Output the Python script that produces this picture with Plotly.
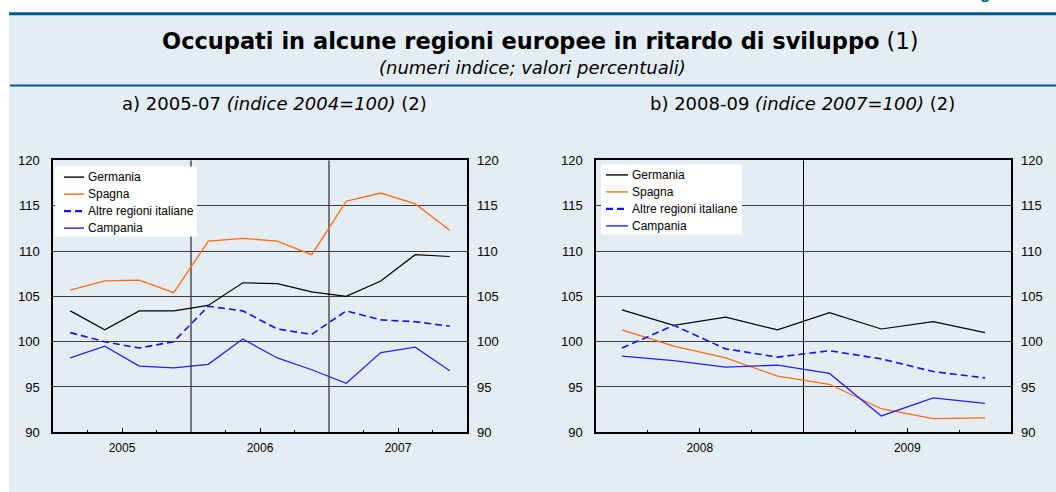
import plotly.graph_objects as go

W, H = 1056, 492

# ---------------- data ----------------
series_names = ["Germania", "Spagna", "Altre regioni italiane", "Campania"]
years_a = ["2005", "2006", "2007"]
years_b = ["2008", "2009"]
quarters_per_year = 4
y_ticks = [90, 95, 100, 105, 110, 115, 120]

germania_a = [103.4, 101.3, 103.4, 103.4, 104.0, 106.5, 106.4, 105.5, 105.0, 106.7, 109.6, 109.4]
spagna_a = [105.7, 106.7, 106.8, 105.4, 111.1, 111.4, 111.1, 109.6, 115.5, 116.4, 115.2, 112.3]
altre_a = [101.0, 100.0, 99.3, 100.0, 103.9, 103.4, 101.4, 100.8, 103.4, 102.4, 102.2, 101.7]
campania_a = [98.2, 99.5, 97.3, 97.1, 97.5, 100.3, 98.2, 96.9, 95.4, 98.8, 99.4, 96.8]

germania_b = [103.5, 101.8, 102.7, 101.3, 103.2, 101.4, 102.2, 101.0]
spagna_b = [101.3, 99.5, 98.2, 96.2, 95.3, 92.6, 91.5, 91.6]
altre_b = [99.3, 101.8, 99.2, 98.3, 99.0, 98.1, 96.7, 96.0]
campania_b = [98.4, 97.9, 97.2, 97.4, 96.5, 91.8, 93.8, 93.2]

# ---------------- styles ----------------
styles = {
    "Germania": dict(color="#000000", width=1.2, dash="solid"),
    "Spagna": dict(color="#FF6A10", width=1.3, dash="solid"),
    "Altre regioni italiane": dict(color="#1010FF", width=1.6, dash="7px,4px"),
    "Campania": dict(color="#2020FF", width=1.3, dash="solid"),
}
BG = "#E5EDF4"
DARK = "#005A85"
HEAD_FONT = "DejaVu Sans"
BODY_FONT = "Liberation Sans, Arial, sans-serif"

# The photographed page shows the figure slightly squeezed vertically;
# layout positions are given in target-picture pixels and mapped back here.
SHOT_OFF, SHOT_SCALE = 6.5, 0.97


def px_x(p):
    return p / W


def py(p):
    """target picture y-pixel -> paper fraction"""
    return 1 - ((p - SHOT_OFF) / SHOT_SCALE) / H


fig = go.Figure()

panels = [
    dict(vals=[germania_a, spagna_a, altre_a, campania_a], years=years_a,
         xa="x", ya="y", yr="y2",
         leg_box=(55, 197, 166, 236), leg_line=(64, 84), leg_text=86, leg_y0=176.7),
    dict(vals=[germania_b, spagna_b, altre_b, campania_b], years=years_b,
         xa="x2", ya="y3", yr="y4",
         leg_box=(601, 742, 164, 234), leg_line=(606, 628), leg_text=630, leg_y0=174.5),
]
LEG_STEP = 17

for p in panels:
    for i, (name, vals) in enumerate(zip(series_names, p["vals"])):
        st = styles[name]
        xs = [k + 0.5 for k in range(len(vals))]
        # half the series on the right-hand (mirrored) axis so both label columns are drawn
        yax = p["ya"] if i < 2 else p["yr"]
        fig.add_trace(go.Scatter(
            x=xs, y=vals, name=name, mode="lines",
            line=dict(color=st["color"], width=st["width"], dash=st["dash"]),
            xaxis=p["xa"], yaxis=yax, showlegend=False, hoverinfo="skip",
        ))

y_dom = [py(432), py(160)]
x_dom_a = [px_x(53), px_x(467)]
x_dom_b = [px_x(596), px_x(1011)]


def xaxis_cfg(years, dom, anchor):
    n = len(years) * quarters_per_year
    centers = [k * quarters_per_year + quarters_per_year / 2 for k in range(len(years))]
    minors = [k * quarters_per_year + q for k in range(len(years)) for q in (1, 3)]
    return dict(
        domain=dom, anchor=anchor, range=[0, n],
        tickmode="array", tickvals=centers, ticktext=years,
        ticks="inside", ticklen=5, tickcolor="#000", tickwidth=1,
        minor=dict(tickmode="array", tickvals=minors, ticks="inside", ticklen=3,
                   tickcolor="#000", tickwidth=1, showgrid=False),
        showgrid=False, zeroline=False, showline=True, mirror=True,
        linecolor="#000", linewidth=1.5, ticklabelstandoff=4,
        tickfont=dict(family=BODY_FONT, size=12, color="#000"),
        fixedrange=True,
    )


def yaxis_cfg(anchor):
    return dict(
        domain=y_dom, anchor=anchor, range=[90, 120],
        tickmode="array", tickvals=y_ticks,
        showgrid=True, gridcolor="#3a3a3a", gridwidth=1,
        zeroline=False, showline=True, mirror=True, linecolor="#000", linewidth=1.5,
        ticks="", ticklabelstandoff=9,
        tickfont=dict(family=BODY_FONT, size=13, color="#000"),
        fixedrange=True,
    )


def yaxis_right(over, anchor):
    return dict(
        overlaying=over, anchor=anchor, side="right", range=[90, 120],
        tickmode="array", tickvals=y_ticks, showgrid=False, zeroline=False,
        showline=False, ticks="", ticklabelstandoff=9,
        tickfont=dict(family=BODY_FONT, size=13, color="#000"),
        fixedrange=True,
    )


shapes = [
    dict(type="rect", xref="paper", yref="paper", x0=px_x(9), x1=1, y0=py(495), y1=py(14),
         fillcolor=BG, line=dict(width=0), layer="below"),
    dict(type="line", xref="paper", yref="paper", x0=px_x(9), x1=1, y0=py(13.3), y1=py(13.3),
         line=dict(color=DARK, width=3)),
    dict(type="line", xref="paper", yref="paper", x0=px_x(10), x1=1, y0=py(85), y1=py(85),
         line=dict(color=DARK, width=2)),
]

annotations = []

for p in panels:
    # year separators
    for k in range(1, len(p["years"])):
        shapes.append(dict(type="line", xref=p["xa"], yref=p["ya"] + " domain",
                           x0=k * quarters_per_year, x1=k * quarters_per_year, y0=0, y1=1,
                           line=dict(color="#000", width=1), layer="below"))
    # legend box
    bx0, bx1, by0, by1 = p["leg_box"]
    shapes.append(dict(type="rect", xref="paper", yref="paper",
                       x0=px_x(bx0), x1=px_x(bx1), y0=py(by1), y1=py(by0),
                       fillcolor="#FFFFFF", line=dict(width=0)))
    lx0, lx1 = p["leg_line"]
    for i, name in enumerate(series_names):
        st = styles[name]
        yy = p["leg_y0"] + i * LEG_STEP
        lw = max(st["width"], 1.4) + (0.6 if st["dash"] != "solid" else 0)
        shapes.append(dict(type="line", xref="paper", yref="paper",
                           x0=px_x(lx0), x1=px_x(lx1), y0=py(yy), y1=py(yy),
                           line=dict(color=st["color"], width=lw, dash=st["dash"])))
        annotations.append(dict(text=name, x=px_x(p["leg_text"]), y=py(yy),
                                xref="paper", yref="paper", showarrow=False,
                                xanchor="left", yanchor="middle",
                                font=dict(family=BODY_FONT, size=12, color="#000")))

annotations += [
    dict(text="<b>Occupati in alcune regioni europee in ritardo di sviluppo</b> (1)",
         x=px_x(540), y=py(41), xref="paper", yref="paper", showarrow=False,
         xanchor="center", yanchor="middle",
         font=dict(family=HEAD_FONT, size=22.5, color="#000")),
    dict(text="<i>(numeri indice; valori percentuali)</i>",
         x=px_x(532), y=py(67), xref="paper", yref="paper", showarrow=False,
         xanchor="center", yanchor="middle",
         font=dict(family=HEAD_FONT, size=18, color="#000")),
    dict(text="a) 2005-07 <i>(indice 2004=100)</i> (2)",
         x=px_x(274), y=py(103), xref="paper", yref="paper", showarrow=False,
         xanchor="center", yanchor="middle",
         font=dict(family=HEAD_FONT, size=18, color="#000")),
    dict(text="b) 2008-09 <i>(indice 2007=100)</i> (2)",
         x=px_x(802), y=py(103), xref="paper", yref="paper", showarrow=False,
         xanchor="center", yanchor="middle",
         font=dict(family=HEAD_FONT, size=18, color="#000")),
    dict(text="<b>Figura</b>",
         x=px_x(963), y=py(4.5), xref="paper", yref="paper", showarrow=False,
         xanchor="left", yanchor="bottom",
         font=dict(family=BODY_FONT, size=17, color=DARK)),
]

fig.update_layout(
    width=W, height=H,
    margin=dict(l=0, r=0, t=0, b=0),
    paper_bgcolor="#FFFFFF", plot_bgcolor="#FFFFFF",
    showlegend=False,
    xaxis=xaxis_cfg(years_a, x_dom_a, "y"),
    yaxis=yaxis_cfg("x"),
    yaxis2=yaxis_right("y", "x"),
    xaxis2=xaxis_cfg(years_b, x_dom_b, "y3"),
    yaxis3=yaxis_cfg("x2"),
    yaxis4=yaxis_right("y3", "x2"),
    shapes=shapes,
    annotations=annotations,
)

page_fix = (
    "var gd=document.getElementById('{plot_id}');"
    "var de=document.documentElement, bd=document.body;"
    "[de, bd].forEach(function(e){e.style.margin='0';e.style.padding='0';"
    "e.style.overflow='hidden';});"
    "gd.style.position='fixed';gd.style.left='0px';gd.style.top='0px';"
)

fig.write_html("out.html", config={"displayModeBar": False}, post_script=page_fix)
